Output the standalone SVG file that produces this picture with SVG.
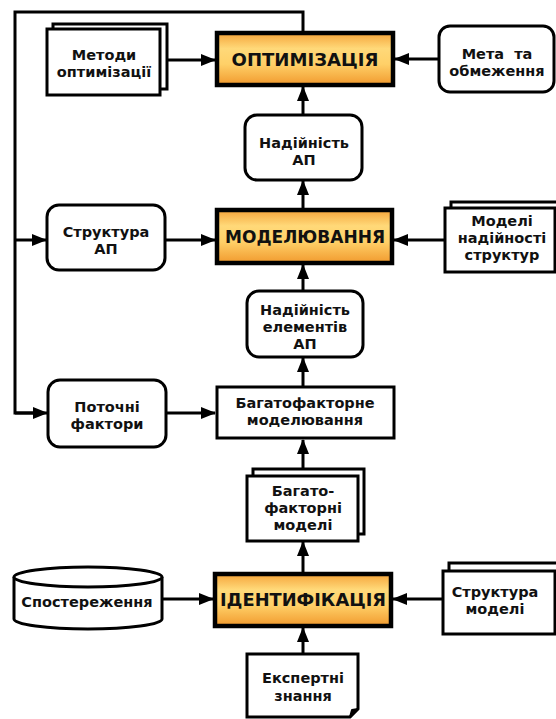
<svg xmlns="http://www.w3.org/2000/svg" width="556" height="719" viewBox="0 0 556 719">
<defs>
<linearGradient id="og" x1="0" y1="0" x2="0" y2="1">
<stop offset="0" stop-color="#F5A43A"/>
<stop offset="0.3" stop-color="#FFD979"/>
<stop offset="0.6" stop-color="#FFD068"/>
<stop offset="1" stop-color="#F19A2E"/>
</linearGradient>
<marker id="ah" markerUnits="userSpaceOnUse" markerWidth="15" markerHeight="12" refX="14" refY="6" orient="auto">
<path d="M0,0 L15,6 L0,12 z" fill="#000"/>
</marker>
<style>
.box{fill:#fff;stroke:#000;stroke-width:3;stroke-linejoin:miter}
.main{fill:url(#og);stroke:#000;stroke-width:4.5}
.t{font-family:"DejaVu Sans","Liberation Sans",sans-serif;font-weight:bold;font-size:14.5px;fill:#111;text-anchor:middle}
.tm{font-family:"DejaVu Sans","Liberation Sans",sans-serif;font-weight:bold;font-size:17px;fill:#111;text-anchor:middle}
.c{fill:none;stroke:#000;stroke-width:3}
.a{marker-end:url(#ah)}
</style>
</defs>
<rect width="556" height="719" fill="#fff"/>

<g id="connectors">
<path class="c" d="M303,33 V12 H15 V413 H33"/>
<path class="c a" d="M15,413 H47"/>
<path class="c a" d="M15,240 H46"/>
<path class="c a" d="M160,60 H215"/>
<path class="c a" d="M439,59 H395"/>
<path class="c a" d="M303,115 V87"/>
<path class="c a" d="M303,210 V181"/>
<path class="c a" d="M303,291 V265"/>
<path class="c a" d="M303,387 V358"/>
<path class="c a" d="M303,469 V440"/>
<path class="c a" d="M303,574 V542"/>
<path class="c a" d="M303,654 V628"/>
<path class="c a" d="M165,240 H215"/>
<path class="c a" d="M445,240 H394"/>
<path class="c a" d="M166,413 H215"/>
<path class="c a" d="M162,599 H213"/>
<path class="c a" d="M443,599 H393"/>
</g>

<g id="metody">
<rect class="box" x="53" y="24" width="114" height="65"/>
<rect class="box" x="47" y="29" width="113" height="66"/>
<text class="t" x="104" y="60">Методи</text>
<text class="t" x="104" y="77">оптимізації</text>
</g>

<g id="optymizatsiia">
<rect class="main" x="217" y="33" width="176" height="52"/>
<text class="tm" x="305" y="65.5" textLength="147" lengthAdjust="spacingAndGlyphs">ОПТИМІЗАЦІЯ</text>
</g>

<g id="meta">
<rect class="box" x="439" y="26" width="115" height="66" rx="11"/>
<text class="t" x="497" y="59" xml:space="preserve">Мета  та</text>
<text class="t" x="497" y="76">обмеження</text>
</g>

<g id="nadiinist-ap">
<rect class="box" x="245" y="115" width="117" height="65" rx="12"/>
<text class="t" x="304" y="148">Надійність</text>
<text class="t" x="304" y="165">АП</text>
</g>

<g id="struktura-ap">
<rect class="box" x="47" y="205" width="118" height="65" rx="12"/>
<text class="t" x="106" y="237">Структура</text>
<text class="t" x="106" y="254">АП</text>
</g>

<g id="modeliuvannia">
<rect class="main" x="217" y="210" width="175" height="53"/>
<text class="tm" x="305" y="243" textLength="160" lengthAdjust="spacingAndGlyphs">МОДЕЛЮВАННЯ</text>
</g>

<g id="modeli-nadiinosti">
<rect class="box" x="451" y="202" width="112" height="64"/>
<rect class="box" x="445" y="208" width="110" height="64"/>
<text class="t" x="502" y="226">Моделі</text>
<text class="t" x="502" y="243">надійності</text>
<text class="t" x="502" y="260">структур</text>
</g>

<g id="nadiinist-elementiv">
<rect class="box" x="247" y="291" width="116" height="66" rx="12"/>
<text class="t" x="305" y="315">Надійність</text>
<text class="t" x="305" y="332">елементів</text>
<text class="t" x="305" y="349">АП</text>
</g>

<g id="potochni-faktory">
<rect class="box" x="48" y="380" width="118" height="67" rx="12"/>
<text class="t" x="107" y="412">Поточні</text>
<text class="t" x="107" y="429">фактори</text>
</g>

<g id="bagatofaktorne-modeliuvannia">
<rect class="box" x="217" y="387" width="177" height="51"/>
<text class="t" x="305" y="408">Багатофакторне</text>
<text class="t" x="305" y="425">моделювання</text>
</g>

<g id="bagatofaktorni-modeli">
<rect class="box" x="253" y="469" width="111" height="65"/>
<rect class="box" x="247" y="476" width="111" height="65"/>
<text class="t" x="303" y="496">Багато-</text>
<text class="t" x="303" y="513">факторні</text>
<text class="t" x="303" y="530">моделі</text>
</g>

<g id="sposterezhennia">
<path class="box" d="M14,577 V619 A74,10 0 0 0 162,619 V577"/>
<ellipse class="box" cx="88" cy="577" rx="74" ry="10"/>
<text class="t" x="87" y="607">Спостереження</text>
</g>

<g id="identyfikatsiia">
<rect class="main" x="215" y="574" width="176" height="52"/>
<text class="tm" x="303" y="606" textLength="166" lengthAdjust="spacingAndGlyphs">ІДЕНТИФІКАЦІЯ</text>
</g>

<g id="struktura-modeli">
<rect class="box" x="449" y="563" width="112" height="64"/>
<rect class="box" x="443" y="571" width="112" height="63"/>
<text class="t" x="495" y="597">Структура</text>
<text class="t" x="495" y="614">моделі</text>
</g>

<g id="ekspertni-znannia">
<path class="box" d="M247,654 H358 V709 L350,717 H247 Z"/>
<path d="M350,717 L352,710 L358,709 Z" fill="#000" stroke="#000" stroke-width="2" stroke-linejoin="round"/>
<text class="t" x="303" y="683">Експертні</text>
<text class="t" x="303" y="701">знання</text>
</g>
</svg>
